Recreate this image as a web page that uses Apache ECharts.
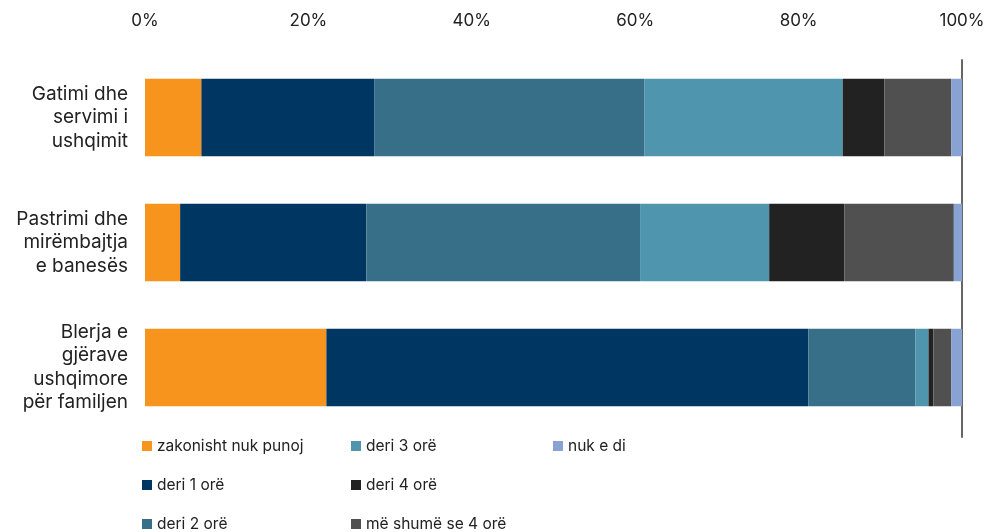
<!DOCTYPE html>
<html>
<head>
<meta charset="utf-8">
<script src="https://cdn.jsdelivr.net/npm/echarts@6/dist/echarts.min.js"></script>
<style>
  html, body { margin: 0; padding: 0; background: #fff; }
  #chart { width: 988px; height: 532px; }
</style>
</head>
<body>
<div id="chart"></div>
<script>
// kategoritë (nga lart poshtë)
var categories = [
  'Gatimi dhe\nservimi i\nushqimit',
  'Pastrimi dhe\nmirëmbajtja\ne banesës',
  'Blerja e\ngjërave\nushqimore\npër familjen'
];
var seriesNames = ['zakonisht nuk punoj', 'deri 1 orë', 'deri 2 orë', 'deri 3 orë', 'deri 4 orë', 'më shumë se 4 orë', 'nuk e di'];
var zakonisht = [6.9, 4.3, 22.2];
var deri1 = [21.2, 22.8, 59.0];
var deri2 = [33.0, 33.5, 13.1];
var deri3 = [24.3, 15.8, 1.6];
var deri4 = [5.1, 9.2, 0.6];
var meShume = [8.2, 13.4, 2.2];
var nukEDi = [1.3, 1.0, 1.3];

var colors = ['#F7941D', '#003662', '#376F88', '#4F95AD', '#222222', '#505050', '#88A3D3'];
var values = [zakonisht, deri1, deri2, deri3, deri4, meShume, nukEDi];

var chart = echarts.init(document.getElementById('chart'))
var font = 'Inter'

var series = seriesNames.map(function (name, i) {
  return {
    name: name,
    type: 'bar',
    stack: 'total',
    barWidth: '62%',
    itemStyle: { color: colors[i] },
    data: values[i]
  }
})

// legjenda: 3 kolona, secili element vendoset veç
var legendLeft = [137, 137, 137, 346, 346, 346, 548]
var legendTop = [433, 472, 511, 433, 472, 511, 433]
var legends = seriesNames.map(function (name, i) {
  return {
    left: legendLeft[i],
    top: legendTop[i],
    itemWidth: 10,
    itemHeight: 10,
    itemGap: 8,
    icon: 'rect',
    textStyle: { fontFamily: font, fontSize: 15.5, color: '#222' },
    data: [name]
  }
})

var option = {
  animation: false,
  color: colors,
  grid: [
    { left: 145, right: 26, top: 55, bottom: 102 },
    { left: 145, right: 26, top: 60, bottom: 95 }
  ],
  xAxis: [{
    type: 'value',
    position: 'top',
    min: 0,
    max: 100,
    interval: 20,
    axisLine: { show: false },
    axisTick: { show: false },
    splitLine: { show: false },
    axisLabel: { formatter: '{value}%', margin: 26, fontFamily: font, fontSize: 17, color: '#222' }
  }, {
    gridIndex: 1, type: 'value', min: 0, max: 100, show: false
  }],
  yAxis: [{
    type: 'category',
    inverse: true,
    data: categories,
    axisLine: { show: false },
    axisTick: { show: false },
    axisLabel: { margin: 17, lineHeight: 23.5, fontSize: 19, align: 'right', padding: [8, 0, 0, 0], fontFamily: font, color: '#222' }
  }, {
    gridIndex: 1,
    type: 'category',
    position: 'right',
    data: categories,
    axisLine: { show: true, onZero: false, lineStyle: { color: '#666', width: 2 } },
    axisTick: { show: false },
    axisLabel: { show: false }
  }],
  legend: legends,
  series: series
}
chart.setOption(option)
</script>
</body>
</html>
